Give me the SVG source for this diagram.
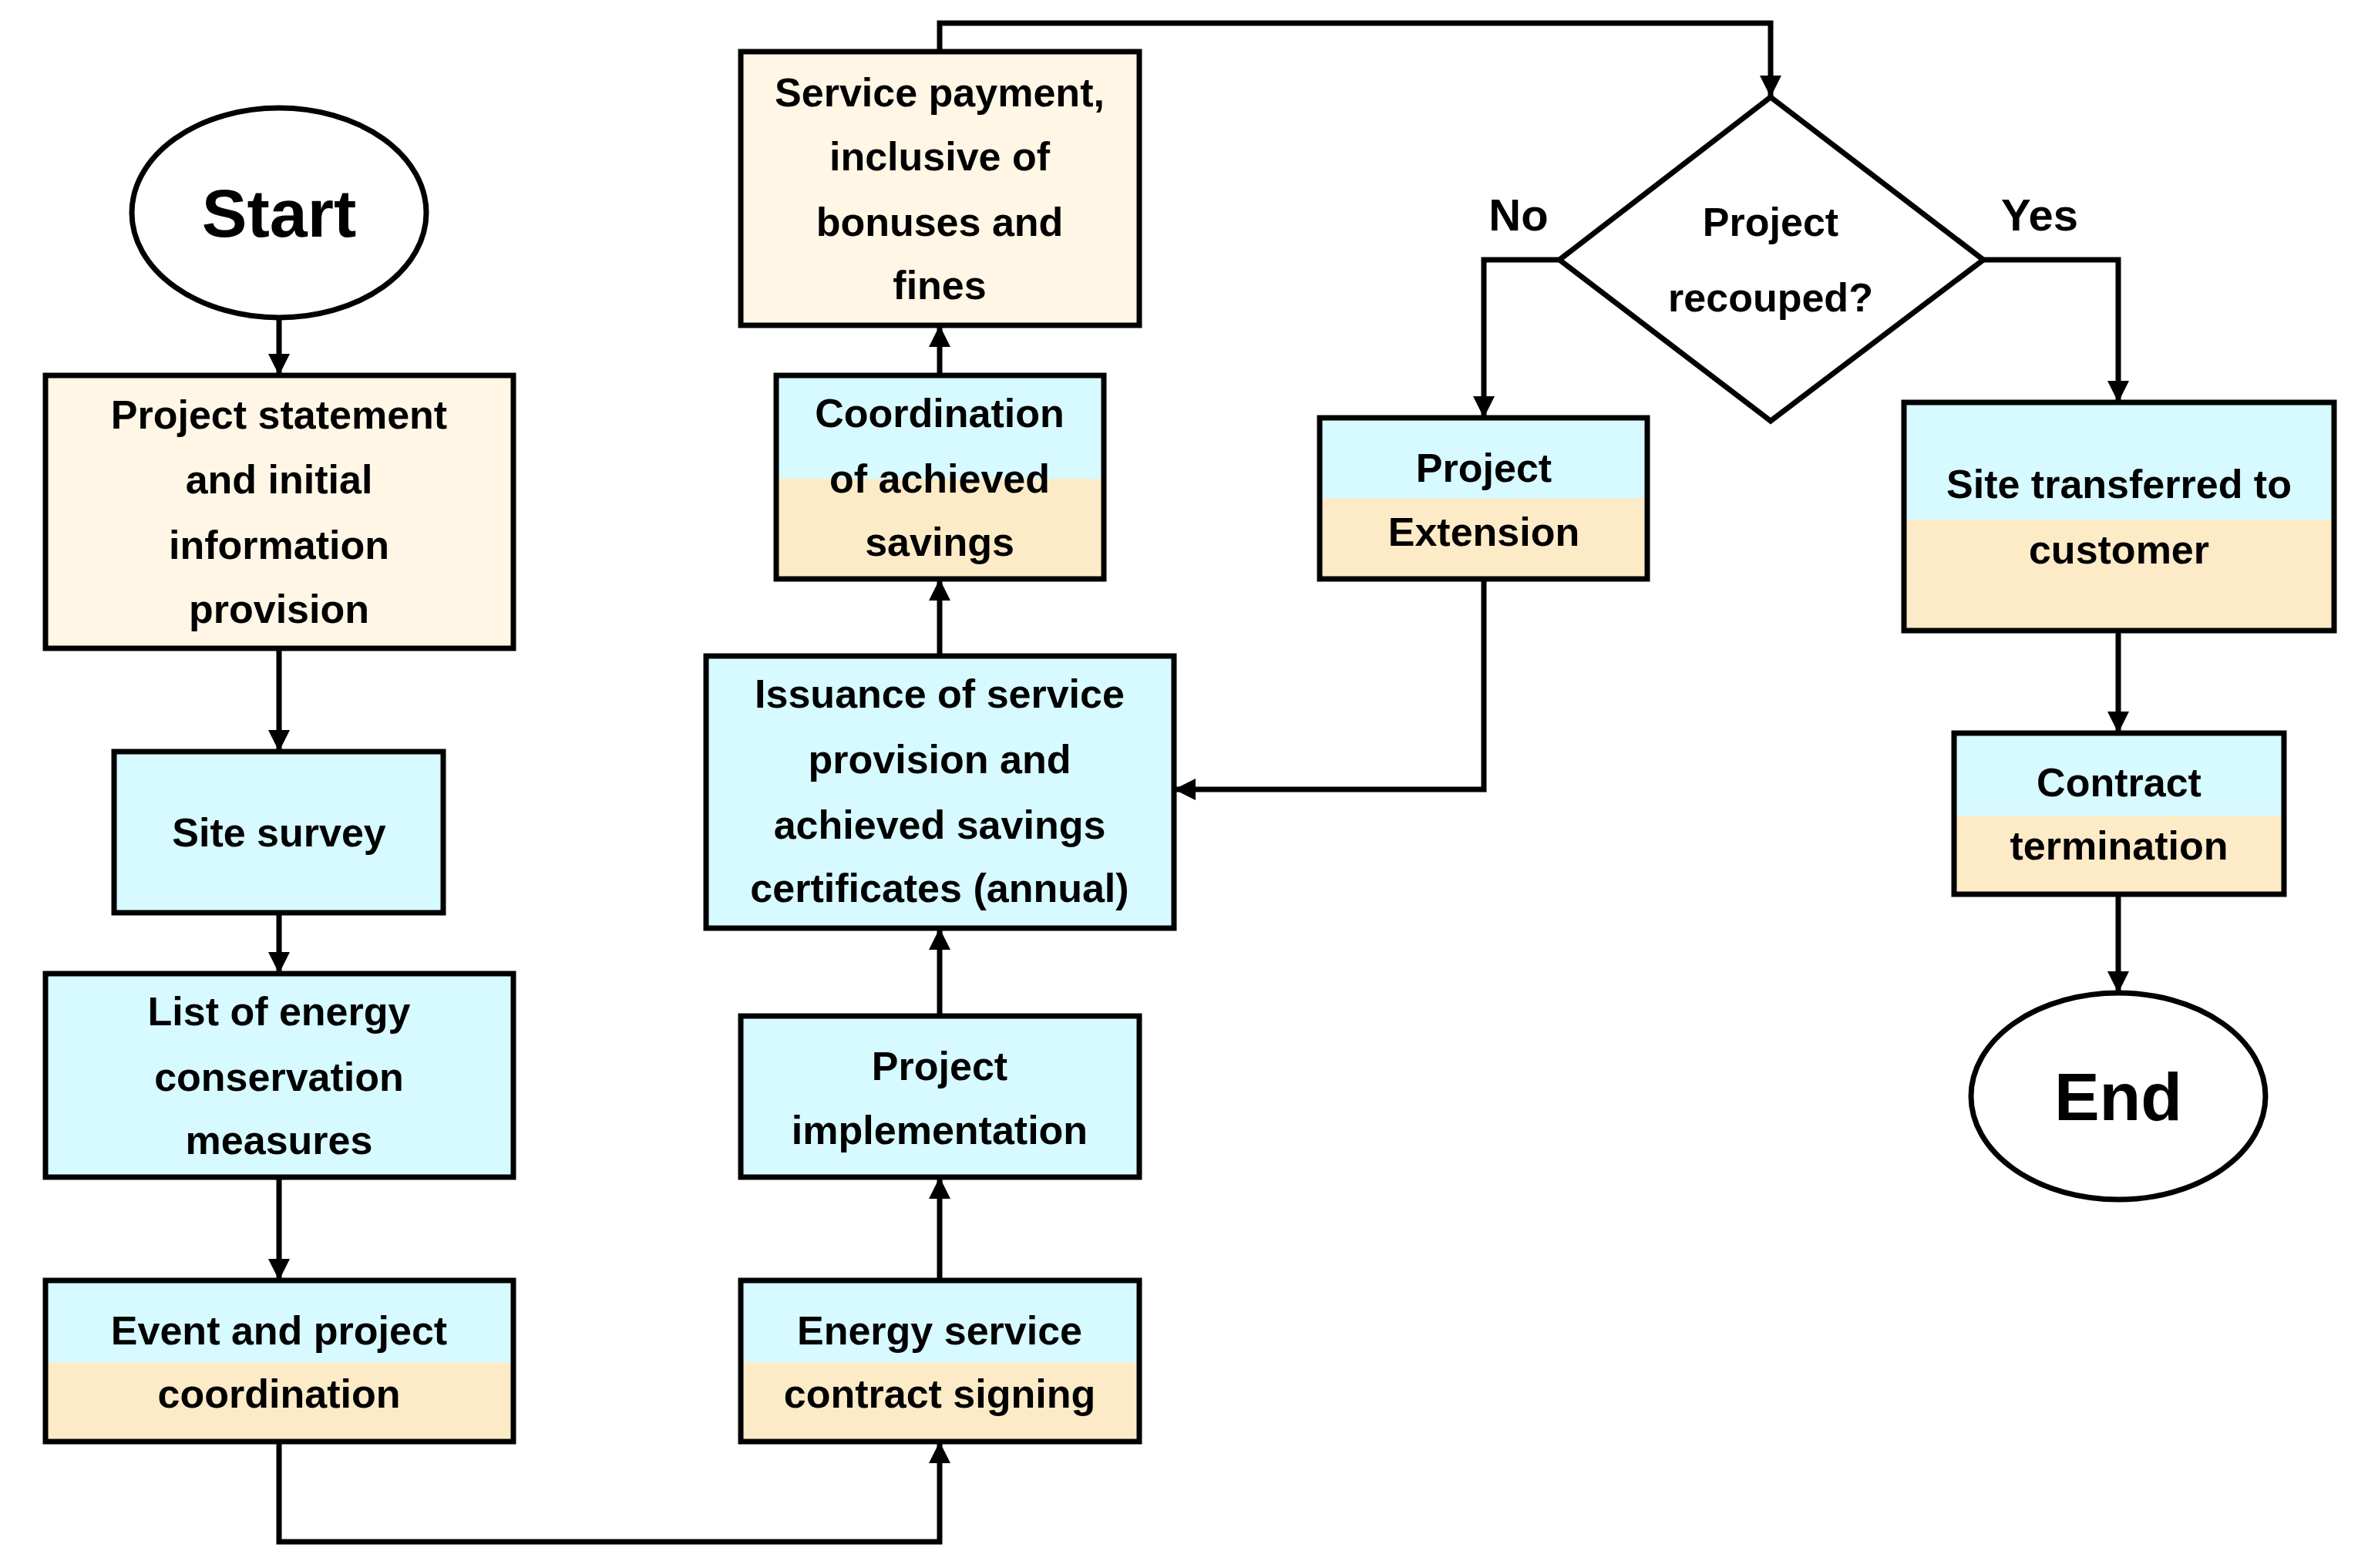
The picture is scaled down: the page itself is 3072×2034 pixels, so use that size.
<svg xmlns="http://www.w3.org/2000/svg" width="3072" height="2034" viewBox="0 0 3072 2034">
<style>
.b{stroke:#000;stroke-width:7}
.t{font-family:"Liberation Sans",Arial,sans-serif;font-weight:bold;font-size:52px;text-anchor:middle;dominant-baseline:central;fill:#000}
.big{font-size:88px}
.c{stroke:#000;stroke-width:7;fill:none;marker-end:url(#a)}
.l{stroke:#000;stroke-width:7;fill:none}
</style>
<defs>
<marker id="a" viewBox="0 0 10 10" refX="10" refY="5" markerWidth="4" markerHeight="6" markerUnits="strokeWidth" orient="auto"><path d="M0,0L10,5L0,10z" fill="#000"/></marker>
</defs>
<rect width="3072" height="2034" fill="#fff"/>
<g id="start"><ellipse cx="362" cy="276" rx="191" ry="136" fill="#fff" class="b"/><text class="t big" x="362" y="276">Start</text></g>
<g id="n1"><rect x="59" y="487" width="607" height="354" fill="#FFF6E6" class="b"/>
<text class="t" x="362" y="538">Project statement</text><text class="t" x="362" y="622">and initial</text><text class="t" x="362" y="707">information</text><text class="t" x="362" y="790">provision</text></g>
<g id="n2"><rect x="148" y="975" width="427" height="209" fill="#D6FAFF" class="b"/><text class="t" x="362" y="1080">Site survey</text></g>
<g id="n3"><rect x="59" y="1263" width="607" height="264" fill="#D6FAFF" class="b"/>
<text class="t" x="362" y="1312">List of energy</text><text class="t" x="362" y="1397">conservation</text><text class="t" x="362" y="1479">measures</text></g>
<g id="n4"><rect x="59" y="1661" width="607" height="106" fill="#D6FAFF"/><rect x="59" y="1767" width="607" height="103" fill="#FDEBC8"/><rect x="59" y="1661" width="607" height="209" fill="none" class="b"/>
<text class="t" x="362" y="1726">Event and project</text><text class="t" x="362" y="1808">coordination</text></g>
<g id="n5"><rect x="961" y="1661" width="517" height="106" fill="#D6FAFF"/><rect x="961" y="1767" width="517" height="103" fill="#FDEBC8"/><rect x="961" y="1661" width="517" height="209" fill="none" class="b"/>
<text class="t" x="1219" y="1726">Energy service</text><text class="t" x="1219" y="1808">contract signing</text></g>
<g id="n6"><rect x="961" y="1318" width="517" height="209" fill="#D6FAFF" class="b"/>
<text class="t" x="1219" y="1383">Project</text><text class="t" x="1219" y="1466">implementation</text></g>
<g id="n7"><rect x="916" y="851" width="607" height="353" fill="#D6FAFF" class="b"/>
<text class="t" x="1219" y="900">Issuance of service</text><text class="t" x="1219" y="985">provision and</text><text class="t" x="1219" y="1070">achieved savings</text><text class="t" x="1219" y="1152">certificates (annual)</text></g>
<g id="n8"><rect x="1007" y="487" width="425" height="134" fill="#D6FAFF"/><rect x="1007" y="621" width="425" height="130" fill="#FDEBC8"/><rect x="1007" y="487" width="425" height="264" fill="none" class="b"/>
<text class="t" x="1219" y="536">Coordination</text><text class="t" x="1219" y="621">of achieved</text><text class="t" x="1219" y="703">savings</text></g>
<g id="n9"><rect x="961" y="67" width="517" height="355" fill="#FFF6E6" class="b"/>
<text class="t" x="1219" y="120">Service payment,</text><text class="t" x="1219" y="203">inclusive of</text><text class="t" x="1219" y="288">bonuses and</text><text class="t" x="1219" y="370">fines</text></g>
<g id="d"><path d="M2297,126L2573,337L2297,546L2023,337Z" fill="#fff" class="b"/>
<text class="t" x="2297" y="288">Project</text><text class="t" x="2297" y="386">recouped?</text></g>
<g id="n10"><rect x="1712" y="542" width="425" height="104" fill="#D6FAFF"/><rect x="1712" y="646" width="425" height="105" fill="#FDEBC8"/><rect x="1712" y="542" width="425" height="209" fill="none" class="b"/>
<text class="t" x="1925" y="607">Project</text><text class="t" x="1925" y="690">Extension</text></g>
<g id="n11"><rect x="2470" y="522" width="558" height="152" fill="#D6FAFF"/><rect x="2470" y="674" width="558" height="144" fill="#FDEBC8"/><rect x="2470" y="522" width="558" height="296" fill="none" class="b"/>
<text class="t" x="2749" y="628">Site transferred to</text><text class="t" x="2749" y="713">customer</text></g>
<g id="n12"><rect x="2535" y="951" width="428" height="107" fill="#D6FAFF"/><rect x="2535" y="1058" width="428" height="102" fill="#FDEBC8"/><rect x="2535" y="951" width="428" height="209" fill="none" class="b"/>
<text class="t" x="2749" y="1015">Contract</text><text class="t" x="2749" y="1097">termination</text></g>
<g id="end"><ellipse cx="2748" cy="1422" rx="191" ry="134" fill="#fff" class="b"/><text class="t big" x="2748" y="1422">End</text></g>
<g id="labels"><text class="t" x="1970" y="278" style="font-size:58px">No</text><text class="t" x="2646" y="278" style="font-size:58px">Yes</text></g>
<g id="connectors">
<path class="c" d="M362,412V487"/>
<path class="c" d="M362,841V975"/>
<path class="c" d="M362,1184V1263"/>
<path class="c" d="M362,1527V1661"/>
<path class="c" d="M362,1870V2000H1219V1870"/>
<path class="c" d="M1219,1661V1527"/>
<path class="c" d="M1219,1318V1204"/>
<path class="c" d="M1219,851V751"/>
<path class="c" d="M1219,487V422"/>
<path class="c" d="M1219,67V30H2297V126"/>
<path class="c" d="M2023,337H1925V542"/>
<path class="c" d="M2573,337H2748V522"/>
<path class="c" d="M1925,751V1024H1523"/>
<path class="c" d="M2748,818V951"/>
<path class="c" d="M2748,1160V1288"/>
</g>
</svg>
